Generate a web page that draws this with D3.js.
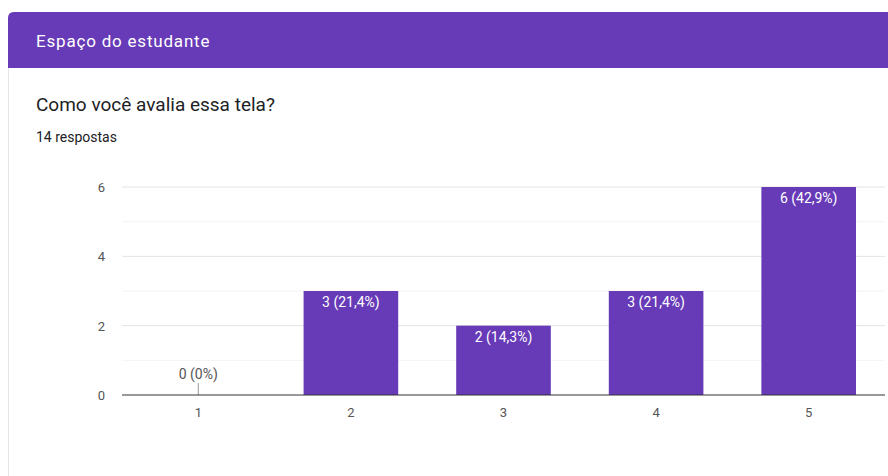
<!DOCTYPE html>
<html>
<head>
<meta charset="utf-8">
<script src="https://cdn.jsdelivr.net/npm/d3@7"></script>
<style>
  body { margin: 0; background: #fff; font-family: Roboto, Arial, sans-serif; }
  #chart { width: 888px; height: 476px; }
</style>
</head>
<body>
<div id="chart"></div>
<script>
// data
let categories = ["1", "2", "3", "4", "5"];
let counts = [0, 3, 2, 3, 6];
let percentLabels = ["0%", "21,4%", "14,3%", "21,4%", "42,9%"];
let yTicks = [0, 2, 4, 6];
let minorTicks = [1, 3, 5];

let width = 888, height = 476;

let svg = d3.select("#chart")
    .append("svg")
    .attr("width", width)
    .attr("height", height);

// card
svg.append("rect")
    .attr("x", 8.5).attr("y", 12.5)
    .attr("width", width + 10).attr("height", height)
    .attr("rx", 6)
    .attr("fill", "#fff")
    .attr("stroke", "#e6e6e6");

// header band
svg.append("path")
    .attr("d", "M8,68 V18 Q8,12 14,12 H888 V68 Z")
    .attr("fill", "#673ab7");

svg.append("text")
    .attr("x", 36).attr("y", 47)
    .attr("fill", "#fff")
    .style("font-size", "17px")
    .style("letter-spacing", "0.8px")
    .text("Espaço do estudante");

svg.append("text")
    .attr("x", 36).attr("y", 111)
    .attr("fill", "#202124")
    .style("font-size", "19px")
    .text("Como você avalia essa tela?");

svg.append("text")
    .attr("x", 36).attr("y", 142)
    .attr("fill", "#202124")
    .style("font-size", "14px")
    .text("14 respostas");

// scales
let x = d3.scaleBand()
    .domain(categories)
    .range([122, 885])
    .paddingInner(0.38)
    .paddingOuter(0.19);

let y = d3.scaleLinear()
    .domain([0, 6])
    .range([395, 187]);

// gridlines
svg.append("g")
    .selectAll("line")
    .data(minorTicks)
    .enter()
    .append("line")
    .attr("x1", 122).attr("x2", 885)
    .attr("y1", d => y(d)).attr("y2", d => y(d))
    .attr("stroke", "#f3f3f3");

svg.append("g")
    .selectAll("line")
    .data(yTicks.filter(d => d > 0))
    .enter()
    .append("line")
    .attr("x1", 122).attr("x2", 885)
    .attr("y1", d => y(d)).attr("y2", d => y(d))
    .attr("stroke", "#e3e3e3");

// y labels
svg.append("g")
    .selectAll("text")
    .data(yTicks)
    .enter()
    .append("text")
    .attr("x", 105)
    .attr("y", d => y(d) + 5)
    .attr("text-anchor", "end")
    .attr("fill", "#555")
    .style("font-size", "13px")
    .text(d => d);

// bars
let rows = categories.map((c, i) => ({cat: c, value: counts[i], pct: percentLabels[i]}));

svg.append("g")
    .selectAll("rect")
    .data(rows.filter(d => d.value > 0))
    .enter()
    .append("rect")
    .attr("x", d => x(d.cat))
    .attr("y", d => y(d.value))
    .attr("width", x.bandwidth())
    .attr("height", d => y(0) - y(d.value))
    .attr("fill", "#673ab7");

// bar labels
svg.append("g")
    .selectAll("text")
    .data(rows)
    .enter()
    .append("text")
    .attr("x", d => x(d.cat) + x.bandwidth() / 2)
    .attr("y", d => d.value > 0 ? y(d.value) + 16 : y(0) - 16)
    .attr("text-anchor", "middle")
    .attr("fill", d => d.value > 0 ? "#fff" : "#555")
    .style("font-size", "14px")
    .text(d => d.value + " (" + d.pct + ")");

// stem for zero bars
svg.append("g")
    .selectAll("line")
    .data(rows.filter(d => d.value == 0))
    .enter()
    .append("line")
    .attr("x1", d => x(d.cat) + x.bandwidth() / 2)
    .attr("x2", d => x(d.cat) + x.bandwidth() / 2)
    .attr("y1", y(0) - 12).attr("y2", y(0))
    .attr("stroke", "#999");

// baseline
svg.append("line")
    .attr("x1", 122).attr("x2", 885)
    .attr("y1", y(0)).attr("y2", y(0))
    .attr("stroke", "#333");

// x labels
svg.append("g")
    .selectAll("text")
    .data(categories)
    .enter()
    .append("text")
    .attr("x", d => x(d) + x.bandwidth() / 2)
    .attr("y", 417)
    .attr("text-anchor", "middle")
    .attr("fill", "#555")
    .style("font-size", "13px")
    .text(d => d);
</script>
</body>
</html>
